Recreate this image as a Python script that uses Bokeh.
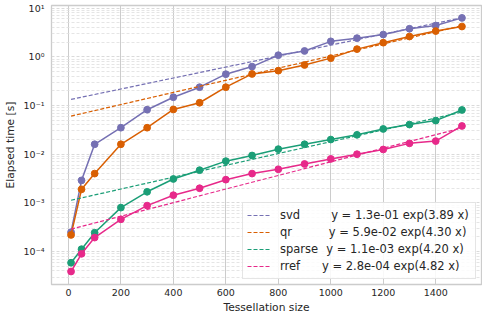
import math
from bokeh.plotting import figure
from bokeh.models import Range1d, FixedTicker, CustomJSTickFormatter
from bokeh.embed import file_html
from bokeh.resources import INLINE

# ---- data ----
sizes = [10, 50, 100, 200, 300, 400, 500, 600, 700, 800, 900, 1000, 1100, 1200, 1300, 1400, 1500]
svd = [2.5e-4, 2.9e-3, 1.6e-2, 3.5e-2, 8.2e-2, 0.148, 0.238, 0.44, 0.63, 1.08, 1.32, 2.08, 2.42, 2.87, 3.77, 4.39, 6.3]
qr = [2.2e-4, 1.9e-3, 4.0e-3, 1.6e-2, 3.5e-2, 8.3e-2, 0.114, 0.238, 0.445, 0.52, 0.68, 0.94, 1.44, 1.95, 2.61, 3.38, 4.19]
sparse = [5.9e-5, 1.12e-4, 2.44e-4, 8.0e-4, 1.69e-3, 3.1e-3, 4.7e-3, 7.2e-3, 9.4e-3, 1.27e-2, 1.6e-2, 2.0e-2, 2.5e-2, 3.3e-2, 4.06e-2, 4.9e-2, 8.1e-2]
rref = [3.9e-5, 9.0e-5, 1.94e-4, 4.6e-4, 8.8e-4, 1.44e-3, 2.0e-3, 3.0e-3, 4.0e-3, 4.9e-3, 6.3e-3, 8.0e-3, 1.0e-2, 1.25e-2, 1.67e-2, 1.86e-2, 3.8e-2]

series_names = ["svd", "qr", "sparse", "rref"]
series_values = [svd, qr, sparse, rref]
series_colors = ["#7570b3", "#d95f02", "#1b9e77", "#e7298a"]

# fitted model y = a * exp(b * x / max(x))
fit_a = [1.3e-01, 5.9e-02, 1.1e-03, 2.8e-04]
fit_b = [3.89, 4.30, 4.20, 4.82]

x_tick_values = [0, 200, 400, 600, 800, 1000, 1200, 1400]
y_tick_exps = [-4, -3, -2, -1, 0, 1]
y_tick_labels = ["10\u207b\u2074", "10\u207b\u00b3", "10\u207b\u00b2", "10\u207b\u00b9", "10\u2070", "10\u00b9"]

FONT = "DejaVu Sans"
TEXT = "#262626"
EN, THIN = "\u2002", "\u2009"
# gap between series name and formula in the legend
name_gaps = [EN * 5 + THIN, EN * 6 + THIN, EN + THIN, EN * 3 + THIN * 2]

x0, x1 = -64.5, 1574.5
y0, y1 = 10 ** -4.676, 10 ** 1.054

p = figure(width=482, height=316, y_axis_type="log",
           x_range=Range1d(x0, x1), y_range=Range1d(y0, y1),
           output_backend="svg", toolbar_location=None,
           min_border_left=1, min_border_right=1, min_border_top=5, min_border_bottom=0)
p.background_fill_color = "white"
p.border_fill_color = "white"
p.outline_line_color = "#cccccc"
p.outline_line_width = 1.3

# axes
p.xaxis.ticker = FixedTicker(ticks=x_tick_values)
minor = [m * 10.0 ** e for e in range(-5, 2) for m in range(2, 10)]
p.yaxis.ticker = FixedTicker(ticks=[10.0 ** e for e in y_tick_exps], minor_ticks=minor)
p.yaxis.formatter = CustomJSTickFormatter(args=dict(exps=y_tick_exps, labels=y_tick_labels), code="""
const e = Math.round(Math.log10(tick));
const i = exps.indexOf(e);
return i >= 0 ? labels[i] : "";
""")
for ax in (p.xaxis, p.yaxis):
    ax.axis_line_color = None
    ax.major_tick_line_color = None
    ax.minor_tick_line_color = None
    ax.major_tick_out = 0
    ax.minor_tick_out = 0
    ax.major_label_text_font = FONT
    ax.major_label_text_font_size = "9.5px"
    ax.major_label_text_color = TEXT
    ax.axis_label_text_font = FONT
    ax.axis_label_text_font_size = "10.7px"
    ax.axis_label_text_font_style = "normal"
    ax.axis_label_text_color = TEXT
p.xaxis.axis_label = "Tessellation size"
p.yaxis.axis_label = "Elapsed time [s]"
p.xaxis.major_label_standoff = 4
p.xaxis.axis_label_standoff = 2
p.yaxis.major_label_standoff = 7
p.yaxis.axis_label_standoff = 4

# grid
p.xgrid.grid_line_color = "#cccccc"
p.xgrid.grid_line_width = 1
p.ygrid.grid_line_color = "#d6d6d6"
p.ygrid.grid_line_width = 0.9
p.ygrid.grid_line_dash = "3 2"
p.ygrid.minor_grid_line_color = "#dedede"
p.ygrid.minor_grid_line_width = 0.8
p.ygrid.minor_grid_line_dash = "3 2"

xmax = max(sizes)
for name, vals, color, a, b, gap in zip(series_names, series_values, series_colors, fit_a, fit_b, name_gaps):
    fit = [a * math.exp(b * s / xmax) for s in sizes]
    label = f"{name}{gap}y = {a:.1e} exp({b:.2f} x)"
    p.line(sizes, fit, line_color=color, line_width=1.2, line_dash="4 2", legend_label=label)
    p.line(sizes, vals, line_color=color, line_width=1.5)
    p.scatter(sizes, vals, marker="circle", size=6.8, fill_color=color, line_color=color)

lg = p.legend[0]
lg.location = "bottom_right"
lg.margin = 5
lg.padding = 4
lg.spacing = 1
lg.glyph_width = 23
lg.glyph_height = 16
lg.label_height = 16
lg.label_width = 191
lg.label_standoff = 10
lg.label_text_font = FONT
lg.label_text_font_size = "11.5px"
lg.label_text_color = TEXT
lg.label_text_baseline = "middle"
lg.border_line_color = "#cccccc"
lg.border_line_width = 1
lg.background_fill_color = "white"
lg.background_fill_alpha = 0.85

open("out.html", "w").write(file_html(p, INLINE))
